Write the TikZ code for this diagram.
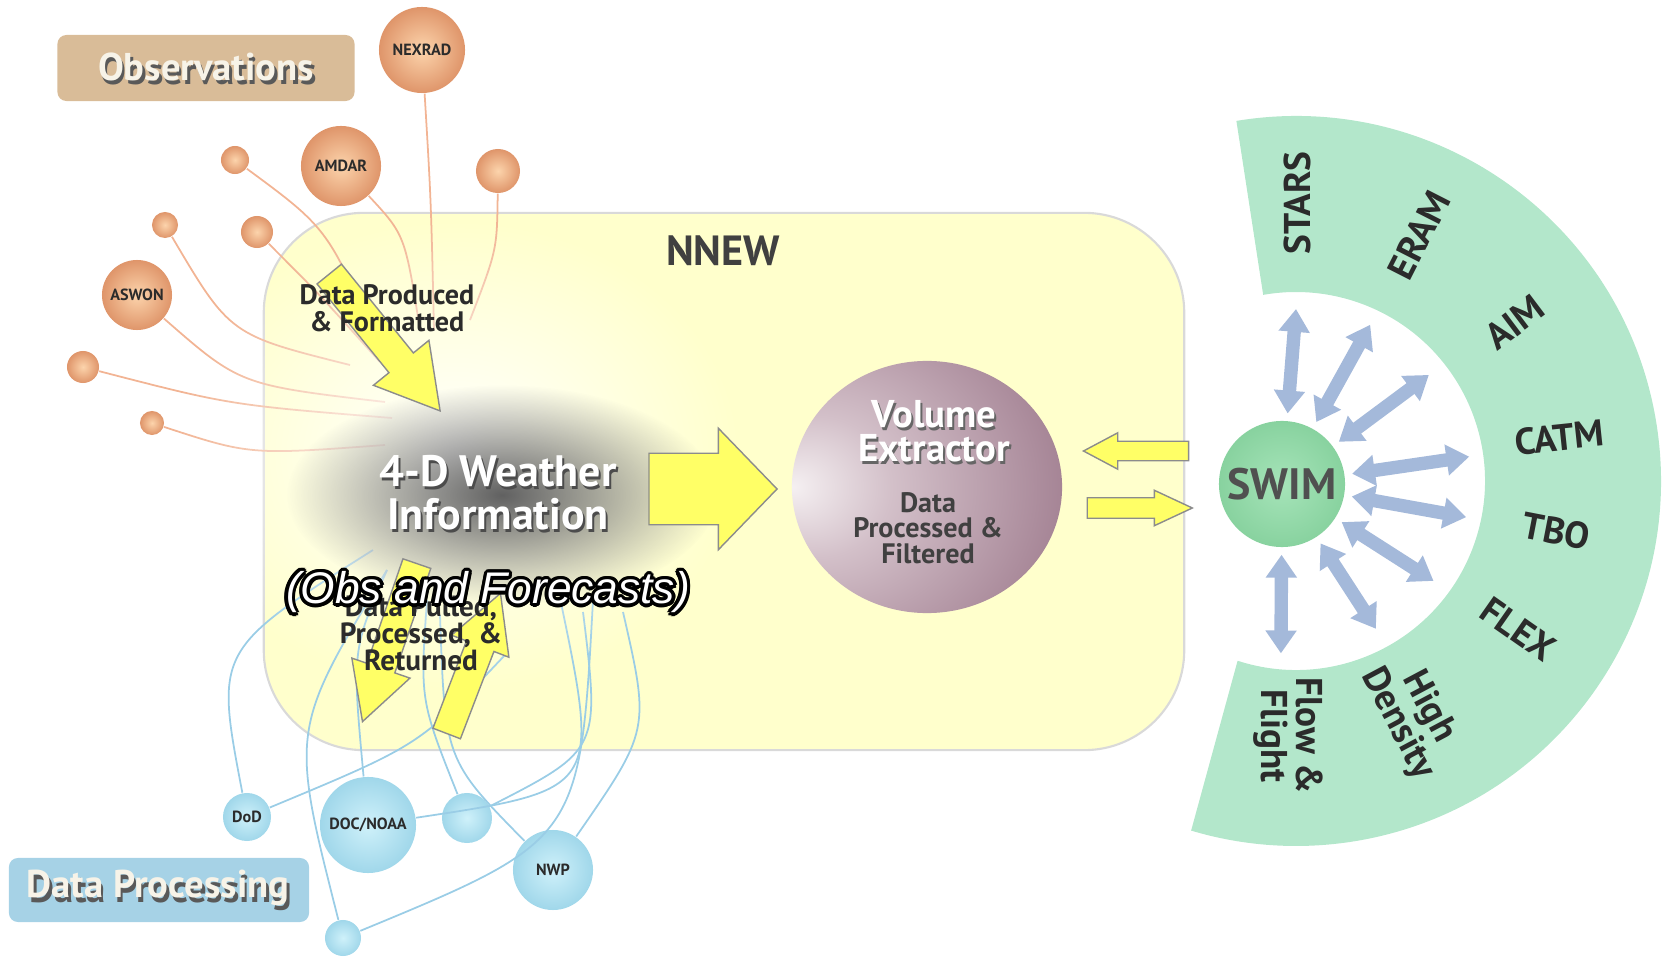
\documentclass[tikz,border=0pt]{standalone}
\usepackage{fontspec}
\setmainfont{PT Sans}
\newfontfamily\helvfont{Liberation Sans}
\usepackage[copies]{contour}
\usetikzlibrary{shapes.arrows,shapes.geometric,arrows.meta,fadings}

\definecolor{boxyellow}{HTML}{FFFFCC}
\definecolor{arrowyellow}{HTML}{FFFF66}
\definecolor{obsin}{HTML}{FCD4AC}
\definecolor{obsout}{HTML}{DF956A}
\definecolor{obsline}{HTML}{F2B494}
\definecolor{dpin}{HTML}{CFF1FA}
\definecolor{dpout}{HTML}{A0D7EA}
\definecolor{dpline}{HTML}{9ACDE6}
\definecolor{tanbox}{HTML}{D9BC98}
\definecolor{bluebox}{HTML}{A6D2E6}
\definecolor{cream}{HTML}{F7F3E8}
\definecolor{mint}{HTML}{B3E7CB}
\definecolor{swimin}{HTML}{A6E4B9}
\definecolor{swimout}{HTML}{88D29F}
\definecolor{swimtext}{HTML}{505050}
\definecolor{swimarrow}{HTML}{A4B9DA}
\definecolor{vehi}{HTML}{F5F0F2}
\definecolor{vemid}{HTML}{D3C0C9}
\definecolor{velow}{HTML}{A68596}
\definecolor{vedark}{HTML}{7D5267}
\definecolor{textdark}{HTML}{2B2B2B}

\contourlength{0.9pt}

\tikzfading[name=softglow, inner color=transparent!0, outer color=transparent!100]

\pgfdeclareradialshading{vesphere}{\pgfpoint{-25bp}{0bp}}{%
	color(0bp)=(vehi); color(14bp)=(vemid); color(38bp)=(velow);
	color(56bp)=(vedark); color(80bp)=(vedark)}

\tikzset{
    every node/.style={inner sep=0pt, text=textdark}
}
\tikzset{
    obsdot/.style={circle, shading=radial, inner color=obsin, outer color=obsout,
    	font=\bfseries\fontsize{4.6}{5}\selectfont},
    dpdot/.style={circle, shading=radial, inner color=dpin, outer color=dpout,
    	font=\bfseries\fontsize{4.6}{5}\selectfont},
    obslink/.style={draw=obsline, line width=0.5pt},
    dplink/.style={draw=dpline, line width=0.5pt},
    titlebox/.style={rounded corners=0.09cm},
    titlefont/.style={font=\bfseries\fontsize{11}{12}\selectfont},
    yarrow/.style={single arrow, draw=black!45, fill=arrowyellow, line width=0.4pt,
    	inner xsep=0pt},
    swimlink/.style={draw=swimarrow, line width=3.8pt, shorten <=2pt,
    	arrows={Triangle[width=8.5pt,length=6.5pt]-Triangle[width=8.5pt,length=6.5pt]}},
    bandlabel/.style={font=\bfseries\fontsize{10.6}{10}\selectfont, align=center}
}

\begin{document}
\begin{tikzpicture}[x=0.01cm, y=-0.01cm]
	\useasboundingbox (0,0) rectangle (1672,958);

	% NNEW area
	\node[draw=black!15, line width=0.6pt, fill=boxyellow, rounded corners=1cm,
		minimum width=9.2cm, minimum height=5.37cm] (nnew) at (724,481.5) {};
	\node[font=\bfseries\fontsize{12}{13}\selectfont, text=black!75] (nnewlabel) at (723,251) {NNEW};

	% observations
	\node[titlebox, fill=tanbox, minimum width=2.97cm, minimum height=0.66cm] (obsbox) at (206,68) {};
	\node[titlefont, text=black!65] (obsshadow) at (208.5,71) {Observations};
	\node[titlefont, text=cream] (obstitle) at (206,67) {Observations};

	\node[obsdot, minimum size=0.86cm] (nexrad) at (422,50) {NEXRAD};
	\node[obsdot, minimum size=0.80cm] (amdar) at (341,166) {AMDAR};
	\node[obsdot, minimum size=0.70cm] (aswon) at (137,295) {ASWON};
	\node[obsdot, minimum size=0.28cm] (obs1) at (235,160) {};
	\node[obsdot, minimum size=0.44cm] (obs2) at (498,171) {};
	\node[obsdot, minimum size=0.26cm] (obs3) at (165,225) {};
	\node[obsdot, minimum size=0.32cm] (obs4) at (257,232) {};
	\node[obsdot, minimum size=0.32cm] (obs5) at (83,367) {};
	\node[obsdot, minimum size=0.24cm] (obs6) at (152,423) {};

	\coordinate (to1) at (385,365);
	\coordinate (to2) at (420,330);
	\coordinate (to3) at (434,330);
	\coordinate (to4) at (470,320);
	\coordinate (to5) at (350,365);
	\coordinate (to6) at (380,362);
	\coordinate (to7) at (385,402);
	\coordinate (to8) at (392,418);
	\coordinate (to9) at (385,445);

	\draw[obslink] (obs1) .. controls (330,230) .. (to1);
	\draw[obslink] (amdar) .. controls (405,235) .. (to2);
	\draw[obslink] (nexrad) .. controls (431,200) .. (to3);
	\draw[obslink] (obs2) .. controls (497,250) .. (to4);
	\draw[obslink] (obs3) .. controls (230,335) .. (to5);
	\draw[obslink] (obs4) .. controls (320,295) .. (to6);
	\draw[obslink] (aswon) .. controls (240,385) .. (to7);
	\draw[obslink] (obs5) .. controls (230,405) .. (to8);
	\draw[obslink] (obs6) .. controls (250,455) .. (to9);

	% data processing
	\node[titlebox, fill=bluebox, minimum width=3.0cm, minimum height=0.64cm] (dpbox) at (159,890) {};
	\node[titlefont, text=black!65] (dpshadow) at (160.5,893) {Data Processing};
	\node[titlefont, text=cream] (dptitle) at (158,888) {Data Processing};

	\node[dpdot, minimum size=0.48cm] (dod) at (247,817) {DoD};
	\node[dpdot, minimum size=0.96cm] (noaa) at (368,825) {DOC/NOAA};
	\node[dpdot, minimum size=0.50cm] (dp1) at (467,818) {};
	\node[dpdot, minimum size=0.80cm] (nwp) at (553,870) {NWP};
	\node[dpdot, minimum size=0.36cm] (dp2) at (343,938) {};

	\coordinate (from1) at (373,550);
	\coordinate (from2) at (505,655);
	\coordinate (from3) at (387,570);
	\coordinate (from4) at (593,600);
	\coordinate (from5) at (560,598);
	\coordinate (from6) at (427,600);
	\coordinate (from7) at (440,615);
	\coordinate (from8) at (583,612);
	\coordinate (from9) at (623,612);

	\draw[dplink] (dod) .. controls (215,650) .. (from1);
	\draw[dplink] (dod) .. controls (420,745) .. (from2);
	\draw[dplink] (noaa) .. controls (352,650) .. (from3);
	\draw[dplink] (dp2) .. controls (290,730) .. (from3);
	\draw[dplink] (dp2) .. controls (580,840) .. (from4);
	\draw[dplink] (noaa) .. controls (600,790) .. (from5);
	\draw[dplink] (dp1) .. controls (420,700) .. (from6);
	\draw[dplink] (nwp) .. controls (445,760) .. (from7);
	\draw[dplink] (dp1) .. controls (600,750) .. (from8);
	\draw[dplink] (nwp) .. controls (650,730) .. (from9);

	% glow round the weather information
	\fill[white, path fading=softglow] (455,455) ellipse [x radius=285, y radius=235];
	\fill[black!62, path fading=softglow] (502,495) ellipse [x radius=215, y radius=110];

	% yellow arrows
	\node[yarrow, minimum height=1.76cm, minimum width=0.70cm, inner ysep=0.15cm,
		single arrow head extend=0.20cm, single arrow tip angle=60, rotate=-51, anchor=tip]
		(produce) at (441,412) {};
	\node[yarrow, minimum height=1.28cm, minimum width=1.20cm, inner ysep=0.35cm,
		single arrow head extend=0.25cm, single arrow tip angle=92, anchor=tip]
		(toextract) at (778,489) {};
	\node[yarrow, minimum height=1.67cm, minimum width=0.60cm, inner ysep=0.14cm,
		single arrow head extend=0.16cm, single arrow tip angle=57, rotate=-109, anchor=tip]
		(pulled) at (362,723) {};
	\node[yarrow, minimum height=1.50cm, minimum width=0.60cm, inner ysep=0.14cm,
		single arrow head extend=0.16cm, single arrow tip angle=57, rotate=69, anchor=tip]
		(returned) at (501,592) {};
	\node[yarrow, minimum height=1.05cm, minimum width=0.35cm, inner ysep=0.09cm,
		single arrow head extend=0.085cm, single arrow tip angle=56, rotate=180, anchor=tip]
		(fromswim) at (1082,451) {};
	\node[yarrow, minimum height=1.05cm, minimum width=0.34cm, inner ysep=0.095cm,
		single arrow head extend=0.075cm, single arrow tip angle=50, anchor=tip]
		(toswim) at (1194,508) {};

	% texts in the NNEW area
	\node[font=\bfseries\fontsize{8}{7.6}\selectfont, align=center] (producetext) at (387,308)
		{Data Produced\\\& Formatted};
	\node[font=\bfseries\fontsize{12.5}{12.2}\selectfont, align=center, text=black!70] (wxshadow)
		at (500,496) {4-D Weather\\Information};
	\node[font=\bfseries\fontsize{12.5}{12.2}\selectfont, align=center, text=white] (wx)
		at (498,493) {4-D Weather\\Information};
	\node[font=\bfseries\fontsize{8.3}{7.7}\selectfont, align=center] (pulledtext) at (421,633)
		{Data Pulled,\\Processed, \&\\Returned};
	\node[font=\helvfont\itshape\fontsize{12.6}{14}\selectfont, text=white] (obsfc) at (488,594)
		{\contour{black}{(Obs and Forecasts)}};

	% volume extractor
	\node[ellipse, shading=vesphere, minimum width=2.7cm, minimum height=2.52cm] (extractor) at (927,487) {};
	\node[font=\bfseries\fontsize{11}{9.7}\selectfont, align=center, text=black!60] (veshadow)
		at (936,434) {Volume\\Extractor};
	\node[font=\bfseries\fontsize{11}{9.7}\selectfont, align=center, text=white] (vetitle)
		at (934,431) {Volume\\Extractor};
	\node[font=\bfseries\fontsize{8}{7.3}\selectfont, align=center, text=black!75] (vetask)
		at (928,528) {Data\\Processed \&\\Filtered};

	% SWIM and its systems
	\node[circle, shading=radial, inner color=swimin, outer color=swimout, minimum size=1.26cm,
		font=\bfseries\fontsize{12.5}{13}\selectfont, text=swimtext] (swim) at (1282,484) {SWIM};

	\begin{scope}[shift={(1296,481)}, y=0.01cm]
		\fill[mint] (99.4:365) arc[start angle=99.4, end angle=-106.7, radius=365]
			-- (-108:189) arc[start angle=-108, end angle=100, radius=189] -- cycle;
		\node[bandlabel, rotate=90] (stars) at (89.6:278) {STARS};
		\node[bandlabel, rotate=63] (eram) at (63.5:275) {ERAM};
		\node[bandlabel, rotate=37] (aim) at (36:270) {AIM};
		\node[bandlabel, rotate=6] (catm) at (9.4:267) {CATM};
		\node[bandlabel, rotate=-11] (tbo) at (-10.9:265) {TBO};
		\node[bandlabel, rotate=-35] (flex) at (-33.8:267) {FLEX};
		\node[bandlabel, rotate=-62] (density) at (-63.5:262) {High\\Density};
		\node[bandlabel, rotate=-90] (flow) at (-91.7:255) {Flow \&\\Flight};
		\coordinate (t1) at (90:172);
		\coordinate (t2) at (64.6:173);
		\coordinate (t3) at (38.6:170);
		\coordinate (t4) at (8:175);
		\coordinate (t5) at (-12:174);
		\coordinate (t6) at (-36:170);
		\coordinate (t7) at (-61.6:168);
		\coordinate (t8) at (-95:173);
	\end{scope}

	\draw[swimlink] (swim) -- (t1);
	\draw[swimlink] (swim) -- (t2);
	\draw[swimlink] (swim) -- (t3);
	\draw[swimlink] (swim) -- (t4);
	\draw[swimlink] (swim) -- (t5);
	\draw[swimlink] (swim) -- (t6);
	\draw[swimlink] (swim) -- (t7);
	\draw[swimlink] (swim) -- (t8);
\end{tikzpicture}
\end{document}
